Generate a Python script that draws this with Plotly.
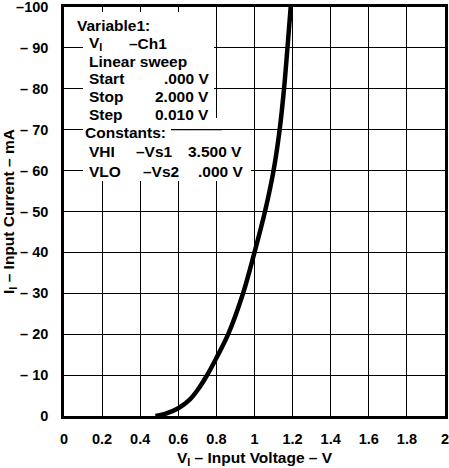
import plotly.graph_objects as go

# Input characteristic: input voltage (V) vs input current (mA, negative = sourced)
voltage = [0.48, 0.53, 0.60, 0.66, 0.705, 0.75, 0.80, 0.862, 0.94, 1.00, 1.055, 1.10, 1.132, 1.155, 1.173, 1.19]
current = [0.0, -0.5, -1.9, -4.0, -6.6, -9.9, -14.2, -20.0, -30.0, -40.0, -50.0, -60.0, -70.0, -80.0, -90.0, -100.0]

x_ticks = [0, 0.2, 0.4, 0.6, 0.8, 1, 1.2, 1.4, 1.6, 1.8, 2]
x_ticktext = ["0", "0.2", "0.4", "0.6", "0.8", "1", "1.2", "1.4", "1.6", "1.8", "2"]
y_ticks = [0, -10, -20, -30, -40, -50, -60, -70, -80, -90, -100]
y_ticktext = ["0", "– 10", "– 20", "– 30", "– 40", "– 50", "– 60", "– 70", "– 80", "– 90", "–100"]

FONT = dict(family="Liberation Sans, Arial, sans-serif", size=14.5, color="black", weight="bold")
TITLE_FONT = dict(FONT, size=15.5)
BOX_FONT = dict(FONT, size=15.5)

fig = go.Figure()
fig.add_trace(go.Scatter(
    x=voltage, y=current, mode="lines",
    line=dict(color="black", width=4.5, shape="spline", smoothing=1.0),
    hoverinfo="skip", showlegend=False,
))

axis_common = dict(
    showgrid=True, gridcolor="black", gridwidth=1.3,
    showline=True, linecolor="black", linewidth=2.5, mirror=True,
    zeroline=False, ticks="", tickfont=FONT, tickmode="array",
    ticklabeloverflow="allow", automargin=False,
)
fig.update_xaxes(range=[0, 2], tickvals=x_ticks, ticktext=x_ticktext,
                 ticklabelstandoff=8,
                 title=dict(text="V<sub>I</sub> – Input Voltage – V", font=TITLE_FONT, standoff=10),
                 **axis_common)
fig.update_yaxes(range=[0, -100], tickvals=y_ticks, ticktext=y_ticktext,
                 ticklabelstandoff=10,
                 title=dict(text="I<sub>I</sub> – Input Current – mA", font=TITLE_FONT, standoff=6),
                 **axis_common)

# pixel -> data helpers for the settings block
def px_x(px):
    return (px - 64) / 190.5

def px_y(py):
    return -(416 - py) / 4.09

shapes = [
    dict(type="rect", x0=px_x(83), x1=px_x(214), y0=px_y(12), y1=px_y(118)),
    dict(type="rect", x0=px_x(83), x1=px_x(220), y0=px_y(118), y1=px_y(140)),
    dict(type="rect", x0=px_x(83), x1=px_x(251), y0=px_y(140), y1=px_y(181)),
]
for s in shapes:
    s.update(xref="x", yref="y", fillcolor="white", line=dict(width=0), layer="above")
# the -70 grid line continues to the right of "Constants:"
shapes.append(dict(type="line", xref="x", yref="y", x0=px_x(171), x1=px_x(222),
                   y0=-70, y1=-70, line=dict(color="black", width=1.3), layer="above"))
fig.update_layout(shapes=shapes)

# settings block text: (text, x px, y px, anchor)
settings = [
    ("Variable1:", 76, 25, "left"),
    ("V<sub>I</sub>", 88, 43, "left"), ("–Ch1", 128, 43, "left"),
    ("Linear sweep", 88, 61, "left"),
    ("Start", 88, 78, "left"), (".000 V", 210, 78, "right"),
    ("Stop", 88, 96, "left"), ("2.000 V", 210, 96, "right"),
    ("Step", 88, 114, "left"), ("0.010 V", 210, 114, "right"),
    ("Constants:", 84, 132, "left"),
    ("VHI", 88, 151, "left"), ("–Vs1", 135, 151, "left"), ("3.500 V", 187, 151, "left"),
    ("VLO", 88, 171, "left"), ("–Vs2", 142, 171, "left"), (".000 V", 197, 171, "left"),
]
fig.update_layout(annotations=[
    dict(text=t, x=px_x(px), y=px_y(py), xref="x", yref="y", xanchor=a, yanchor="middle",
         showarrow=False, font=BOX_FONT, borderpad=0)
    for t, px, py, a in settings
])

fig.update_layout(
    width=449, height=468,
    margin=dict(l=64, r=4, t=7, b=52),
    paper_bgcolor="white", plot_bgcolor="white",
)

fig.write_html("out.html")
